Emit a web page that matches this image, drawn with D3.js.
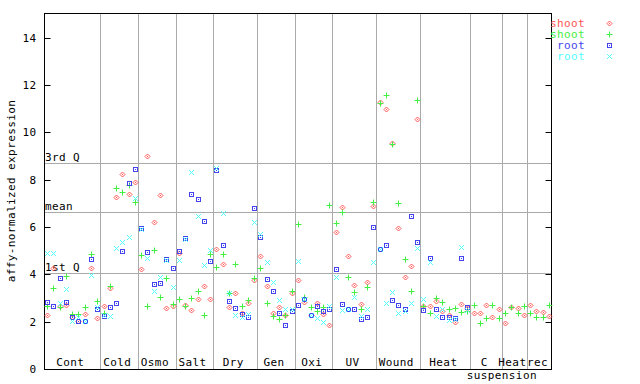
<!DOCTYPE html>
<html>
<head>
<meta charset="utf-8">
<script src="https://cdn.jsdelivr.net/npm/d3@7"></script>
<style>
  body { margin: 0; background: #fff; }
  text { font-family: "DejaVu Sans Mono", monospace; font-size: 11px; letter-spacing: 0.4px; }
</style>
</head>
<body>
<svg id="chart" width="640" height="384"></svg>
<script>
// experiment groups and how many samples each one has
var groupNames = ["Cont", "Cold", "Osmo", "Salt", "Dry", "Gen", "Oxi", "UV", "Wound", "Heat", "C|suspension", "Heat", "rec"];
var groupSizes = [9, 6, 6, 6, 7, 6, 6, 7, 7, 8, 5, 4, 4];

// reference lines
var refNames = ["3rd Q", "mean", "1st Q"];
var refValues = [8.69, 6.62, 4.07];

var yTicks = [0, 2, 4, 6, 8, 10, 12, 14];

// series (one value per sample, null = not measured)
var shootA = [2.28, 4.26, 2.65, 2.70, 2.20, 2.01, 2.32, 4.27, 2.16,
  2.66, 3.42, 7.26, 8.24, 7.40, 7.89,
  4.23, 9.00, 6.21, 7.34, 2.56, 2.66,
  4.90, 2.72, 2.48, 2.94, 3.51, 2.94,
  5.06, 4.43, 2.62, 3.20, 2.35, 2.80, 3.76,
  4.78, 3.50, 2.38, 2.62, 2.28, 3.20,
  3.76, 2.85, 2.30, 2.78, 2.32, 1.86,
  5.78, 6.83, 4.76, 3.54, 2.75, 3.68, 6.89,
  11.28, 10.98, 9.57, 5.95, 3.87, 4.35, 10.55,
  2.66, 2.66, 2.89, 2.45, 2.27, 2.00, 2.73, 2.57,
  2.35, 2.35, 2.69, 2.18, 2.52,
  1.93, 2.61, 2.56, 2.27,
  2.69, 2.44, 2.40, 2.23];
var shootB = [2.68, 3.44, 2.63, 3.92, 2.32, 2.32, 2.63, 4.85, 2.86,
  2.35, 3.51, 7.64, 7.47, 7.78, 7.05,
  4.80, 2.66, 5.03, 3.04, 3.85, 2.74,
  2.94, 2.66, 3.00, 3.28, 2.27, 4.86,
  4.30, 4.85, 3.23, 4.43, 2.66, 2.92, 3.85,
  4.26, 2.78, 2.24, 2.10, 2.28, 3.30,
  6.11, 3.06, 2.61, 2.44, 2.62, 6.92,
  6.16, 6.65, 3.90, 3.24, 2.54, 3.48, 7.07,
  11.23, 11.57, 9.51, 7.00, 4.64, 3.28, 11.37,
  2.66, 2.38, 2.99, 2.82, 2.52, 2.56, 2.41, 2.45,
  2.69, 1.93, 2.14, 2.69, 2.14,
  2.35, 2.61, 2.38, 2.65,
  2.35, 2.18, 2.18, 2.69];
var rootA = [2.82, 2.66, 3.83, 2.82, 2.21, 2.01, 2.01, 4.64, 2.55,
  2.24, 2.62, 2.78, 4.99, 7.87, 8.44,
  5.95, 4.93, 3.58, 3.62, 4.64, 4.26,
  4.99, 5.55, 7.38, 7.17, 6.24, 4.56,
  8.41, 5.23, 2.86, 2.58, 2.32, 2.18, 6.79,
  5.57, 3.80, 3.30, 2.35, 1.85, 2.45,
  2.69, 2.94, 2.28, 2.66, 2.46, 2.55,
  4.21, 2.73, 2.54, 2.54, 2.10, 2.21, 5.99,
  5.08, 5.23, 2.92, 2.69, 2.52, 6.47, 5.36,
  2.49, 4.68, 2.52, 2.18, 2.18, 2.14, 4.68, 2.61,
  null, null, null, null, null,
  null, null, null, null,
  null, null, null, null];
var rootB = [4.92, 4.92, 2.78, 3.38, 2.04, 2.20, 2.01, 3.96, 2.60,
  2.28, 2.24, 5.10, 5.37, 5.57, 7.21,
  5.90, 4.68, 3.28, 3.88, 4.60, 3.45,
  4.61, 5.50, 8.31, 6.47, 4.38, 5.03,
  8.50, 6.58, 3.23, 2.27, 2.20, 2.32, 6.20,
  5.71, 4.52, 3.66, 2.92, 2.54, 2.52,
  4.56, 2.94, 2.30, 2.14, 2.00, 2.66,
  3.88, 2.49, 2.54, 3.06, 2.24, 2.54, 4.51,
  5.05, 2.78, 3.24, 2.35, 2.44, 2.78, 5.10,
  2.94, 4.54, 2.24, 2.52, 2.07, 2.12, 5.14, 2.50,
  null, null, null, null, null,
  null, null, null, null,
  null, null, null, null];

var seriesNames = ["shoot", "shoot", "root", "root"];
var seriesData = [shootA, shootB, rootA, rootB];
var seriesColors = ["#ff5555", "#44ee44", "#4444ee", "#55ffff"];
var seriesShapes = ["diamond", "plus", "square", "cross"];

var plotL = 44, plotR = 552, plotT = 13, plotB = 369;
var nSlots = d3.sum(groupSizes);

var svg = d3.select("#chart");

var x = d3.scaleLinear().domain([0, nSlots]).range([plotL, plotR]);
var y = d3.scaleLinear().domain([0, 15]).range([plotB, plotT + 1]);

function px(v) { return Math.round(v) + 0.5; }

// group separators
var starts = [0];
groupSizes.forEach(function(s, i) { starts.push(starts[i] + s); });

svg.append("g").selectAll("line")
  .data(starts.slice(1, -1))
  .join("line")
  .attr("x1", function(d) { return px(x(d)); })
  .attr("x2", function(d) { return px(x(d)); })
  .attr("y1", plotT).attr("y2", plotB)
  .attr("stroke", "#aaa");

// quartile / mean lines
svg.append("g").selectAll("line")
  .data(refValues)
  .join("line")
  .attr("x1", plotL).attr("x2", plotR)
  .attr("y1", function(d) { return px(y(d)); })
  .attr("y2", function(d) { return px(y(d)); })
  .attr("stroke", "#aaa");

svg.append("g").selectAll("text")
  .data(refNames)
  .join("text")
  .attr("x", plotL + 1)
  .attr("y", function(d, i) { return Math.round(y(refValues[i])) - 2; })
  .text(function(d) { return d; });

// frame
svg.append("rect")
  .attr("x", plotL + 0.5).attr("y", plotT + 0.5)
  .attr("width", plotR - plotL - 1).attr("height", plotB - plotT)
  .attr("fill", "none").attr("stroke", "#000");

// axes
var yl = svg.append("g")
  .attr("transform", "translate(" + (plotL + 0.5) + ",0)")
  .call(d3.axisLeft(y).tickValues(yTicks).tickSizeInner(-6).tickSizeOuter(0).tickPadding(8));
var yr = svg.append("g")
  .attr("transform", "translate(" + (plotR - 0.5) + ",0)")
  .call(d3.axisRight(y).tickValues(yTicks).tickSizeInner(-6).tickSizeOuter(0).tickFormat(""));
[yl, yr].forEach(function(g) {
  g.select(".domain").remove();
  g.selectAll(".tick").attr("transform", function(d) { return "translate(0," + px(y(d)) + ")"; });
  g.selectAll("text").attr("fill", "#000");
});
svg.selectAll(".tick text").style("font-family", "DejaVu Sans Mono").style("font-size", "11px");

svg.append("text")
  .attr("transform", "translate(15," + ((plotT + plotB) / 2) + ") rotate(-90)")
  .attr("text-anchor", "middle")
  .text("affy-normalized expression");

// group labels
groupNames.forEach(function(name, i) {
  var cx = (x(starts[i]) + x(starts[i + 1])) / 2 - 2;
  var parts = name.split("|");
  svg.append("text")
    .attr("x", cx).attr("y", 366)
    .attr("text-anchor", "middle")
    .text(parts[0]);
  if (parts[1]) {
    svg.append("text")
      .attr("x", x(starts[i + 1])).attr("y", 379)
      .attr("text-anchor", "middle")
      .text(parts[1]);
  }
});

// markers
function marker(g, shape, color) {
  if (shape == "diamond") {
    g.append("path").attr("d", "M0,-2.5L2.5,0L0,2.5L-2.5,0Z").attr("fill", "none").attr("stroke", color);
    g.append("rect").attr("x", -0.5).attr("y", -0.5).attr("width", 1).attr("height", 1).attr("fill", color);
  } else if (shape == "plus") {
    g.append("path").attr("d", "M-3,0H3M0,-3V3").attr("stroke", color);
  } else if (shape == "square") {
    g.append("rect").attr("x", -2).attr("y", -2).attr("width", 4).attr("height", 4).attr("fill", "none").attr("stroke", color);
    g.append("rect").attr("x", -0.5).attr("y", -0.5).attr("width", 1).attr("height", 1).attr("fill", color);
  } else {
    g.append("path").attr("d", "M-2.5,-2.5L2.5,2.5M-2.5,2.5L2.5,-2.5").attr("stroke", color);
  }
}

seriesData.forEach(function(vals, s) {
  var layer = svg.append("g");
  vals.forEach(function(v, i) {
    if (v == null) return;
    var g = layer.append("g")
      .attr("transform", "translate(" + px(x(i + 0.5)) + "," + px(y(v)) + ")");
    marker(g, seriesShapes[s], seriesColors[s]);
  });
});

// legend
seriesNames.forEach(function(name, s) {
  var ly = 23 + s * 11;
  svg.append("text")
    .attr("x", 585).attr("y", ly + 4)
    .attr("text-anchor", "end")
    .attr("fill", seriesColors[s])
    .text(name);
  var g = svg.append("g").attr("transform", "translate(609.5," + (ly + 0.5) + ")");
  marker(g, seriesShapes[s], seriesColors[s]);
});
</script>
</body>
</html>
